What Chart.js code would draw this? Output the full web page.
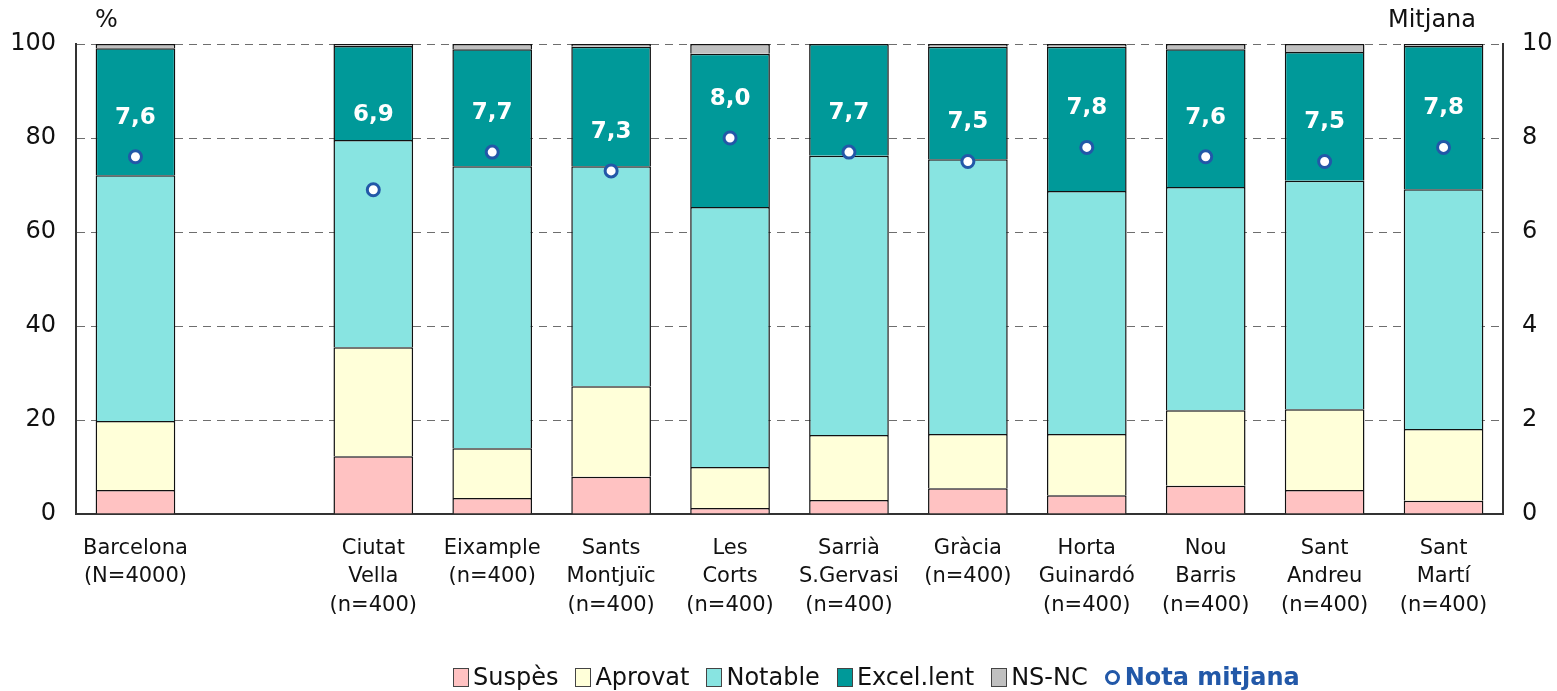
<!DOCTYPE html>
<html>
<head>
<meta charset="utf-8">
<script src="https://cdn.jsdelivr.net/npm/chart.js@4.4.0/dist/chart.umd.min.js"></script>
<style>
    html, body { margin: 0; padding: 0; background: #fff; }
    #wrap { position: relative; width: 1557px; height: 691px; }
    #legend { position: absolute; left: 453px; top: 663px; display: flex; align-items: center;
              font-family: "DejaVu Sans", Verdana, sans-serif; font-size: 24px; color: #111; }
    #legend .it { display: flex; align-items: center; margin-right: 17px; }
    #legend .box { width: 14px; height: 17px; border: 1px solid #444; margin-right: 4px; }
    #legend .dot { width: 9px; height: 9px; border: 3px solid #2258a8; border-radius: 50%; margin-right: 5px; }
    #legend .nota { color: #2258a8; font-weight: bold; }
</style>
</head>
<body>
<div id="wrap">
    <canvas id="chart" width="1557" height="691"></canvas>
    <div id="legend"></div>
</div>
<script>
const categories = [
    ['Barcelona', '(N=4000)'], '',
    ['Ciutat', 'Vella', '(n=400)'], ['Eixample', '(n=400)'], ['Sants', 'Montjuïc', '(n=400)'],
    ['Les', 'Corts', '(n=400)'], ['Sarrià', 'S.Gervasi', '(n=400)'], ['Gràcia', '(n=400)'],
    ['Horta', 'Guinardó', '(n=400)'], ['Nou', 'Barris', '(n=400)'], ['Sant', 'Andreu', '(n=400)'],
    ['Sant', 'Martí', '(n=400)']
];
const suspes  = [5.1, null, 12.3, 3.4, 7.9, 1.3, 3.0, 5.5, 4.0, 6.0, 5.1, 2.8];
const aprovat = [14.7, null, 23.2, 10.6, 19.3, 8.7, 13.8, 11.5, 13.0, 16.1, 17.2, 15.3];
const notable = [52.3, null, 44.1, 60.0, 46.8, 55.3, 59.4, 58.5, 51.7, 47.5, 48.6, 51.0];
const excel   = [27.0, null, 20.0, 24.9, 25.4, 32.6, 23.8, 23.9, 30.7, 29.3, 27.4, 30.5];
const nsnc    = [0.9, null, 0.4, 1.1, 0.6, 2.1, 0, 0.6, 0.6, 1.1, 1.7, 0.4];
const mitjana = [7.6, null, 6.9, 7.7, 7.3, 8.0, 7.7, 7.5, 7.8, 7.6, 7.5, 7.8];

const pctTicks = [0, 20, 40, 60, 80, 100];
const meanTicks = [0, 2, 4, 6, 8, 10];

const series = [
    { label: 'Suspès', data: suspes, color: '#ffc2c2' },
    { label: 'Aprovat', data: aprovat, color: '#ffffd9' },
    { label: 'Notable', data: notable, color: '#88e4e1' },
    { label: 'Excel.lent', data: excel, color: '#009999' },
    { label: 'NS-NC', data: nsnc, color: '#c0c0c0' }
];
const BLUE = '#2258a8';
const FONT = '"DejaVu Sans", Verdana, sans-serif';

// legend (html)
const legend = document.getElementById('legend');
series.forEach(s => {
    const it = document.createElement('div');
    it.className = 'it';
    it.innerHTML = `<span class="box" style="background:${s.color}"></span><span>${s.label}</span>`;
    legend.appendChild(it);
});
const nota = document.createElement('div');
nota.className = 'it';
nota.innerHTML = '<span class="dot"></span><span class="nota">Nota mitjana</span>';
legend.appendChild(nota);

// titles + value labels
const extrasPlugin = {
    id: 'extras',
    afterDatasetsDraw(chart) {
        const { ctx, scales } = chart;
        const y = scales.y, y2 = scales.y2, x = scales.x;
        ctx.save();
        ctx.fillStyle = '#111';
        ctx.font = '24px ' + FONT;
        ctx.textBaseline = 'middle';
        ctx.textAlign = 'left';
        ctx.fillText('%', 95, 21);
        ctx.textAlign = 'right';
        ctx.fillText('Mitjana', 1476, 21);

        ctx.fillStyle = '#fff';
        ctx.font = 'bold 23px ' + FONT;
        ctx.textAlign = 'center';
        mitjana.forEach((m, i) => {
            if (m == null) return;
            const px = x.getPixelForValue(i);
            let ly = y2.getPixelForValue(m) - 39;
            const exBottom = y.getPixelForValue(suspes[i] + aprovat[i] + notable[i]);
            if (ly > exBottom - 25) ly = exBottom - 25;
            ctx.fillText(m.toFixed(1).replace('.', ','), px, ly);
        });
        ctx.restore();
    }
};

const datasets = series.map(s => ({
    type: 'bar',
    label: s.label,
    data: s.data,
    backgroundColor: s.color,
    borderColor: '#111',
    borderWidth: 1.5,
    categoryPercentage: 1,
    barPercentage: 0.67,
    yAxisID: 'y',
    order: 2
}));
datasets.push({
    type: 'line',
    label: 'Nota mitjana',
    data: mitjana,
    yAxisID: 'y2',
    showLine: false,
    pointRadius: 6,
    pointBorderWidth: 3,
    pointBackgroundColor: '#fff',
    pointBorderColor: BLUE,
    order: 1
});

new Chart(document.getElementById('chart'), {
    data: { labels: categories, datasets },
    options: {
        responsive: false,
        animation: false,
        layout: { padding: { top: 44, left: 0, right: 0, bottom: 0 } },
        plugins: { legend: { display: false }, tooltip: { enabled: false } },
        scales: {
            x: {
                stacked: true,
                grid: { display: false },
                border: { display: true, color: '#333', width: 2 },
                ticks: {
                    color: '#111', autoSkip: false, maxRotation: 0, padding: 12,
                    font: { family: FONT, size: 21, lineHeight: 1.36 }
                },
                afterFit: s => { s.height = 177; }
            },
            y: {
                stacked: true, min: 0, max: 100,
                afterBuildTicks: s => { s.ticks = pctTicks.map(v => ({ value: v })); },
                grid: { color: '#6e6e6e', lineWidth: 1, drawTicks: false },
                border: { display: true, color: '#333', width: 2, dash: [8, 6] },
                ticks: { color: '#111', padding: 20, font: { family: FONT, size: 24 } },
                afterFit: s => { s.width = 76; }
            },
            y2: {
                position: 'right', min: 0, max: 10,
                afterBuildTicks: s => { s.ticks = meanTicks.map(v => ({ value: v })); },
                grid: { display: false, drawTicks: false },
                border: { display: true, color: '#333', width: 2 },
                ticks: { color: '#111', padding: 19, font: { family: FONT, size: 24 } },
                afterFit: s => { s.width = 54; }
            }
        }
    },
    plugins: [extrasPlugin]
});
</script>
</body>
</html>
